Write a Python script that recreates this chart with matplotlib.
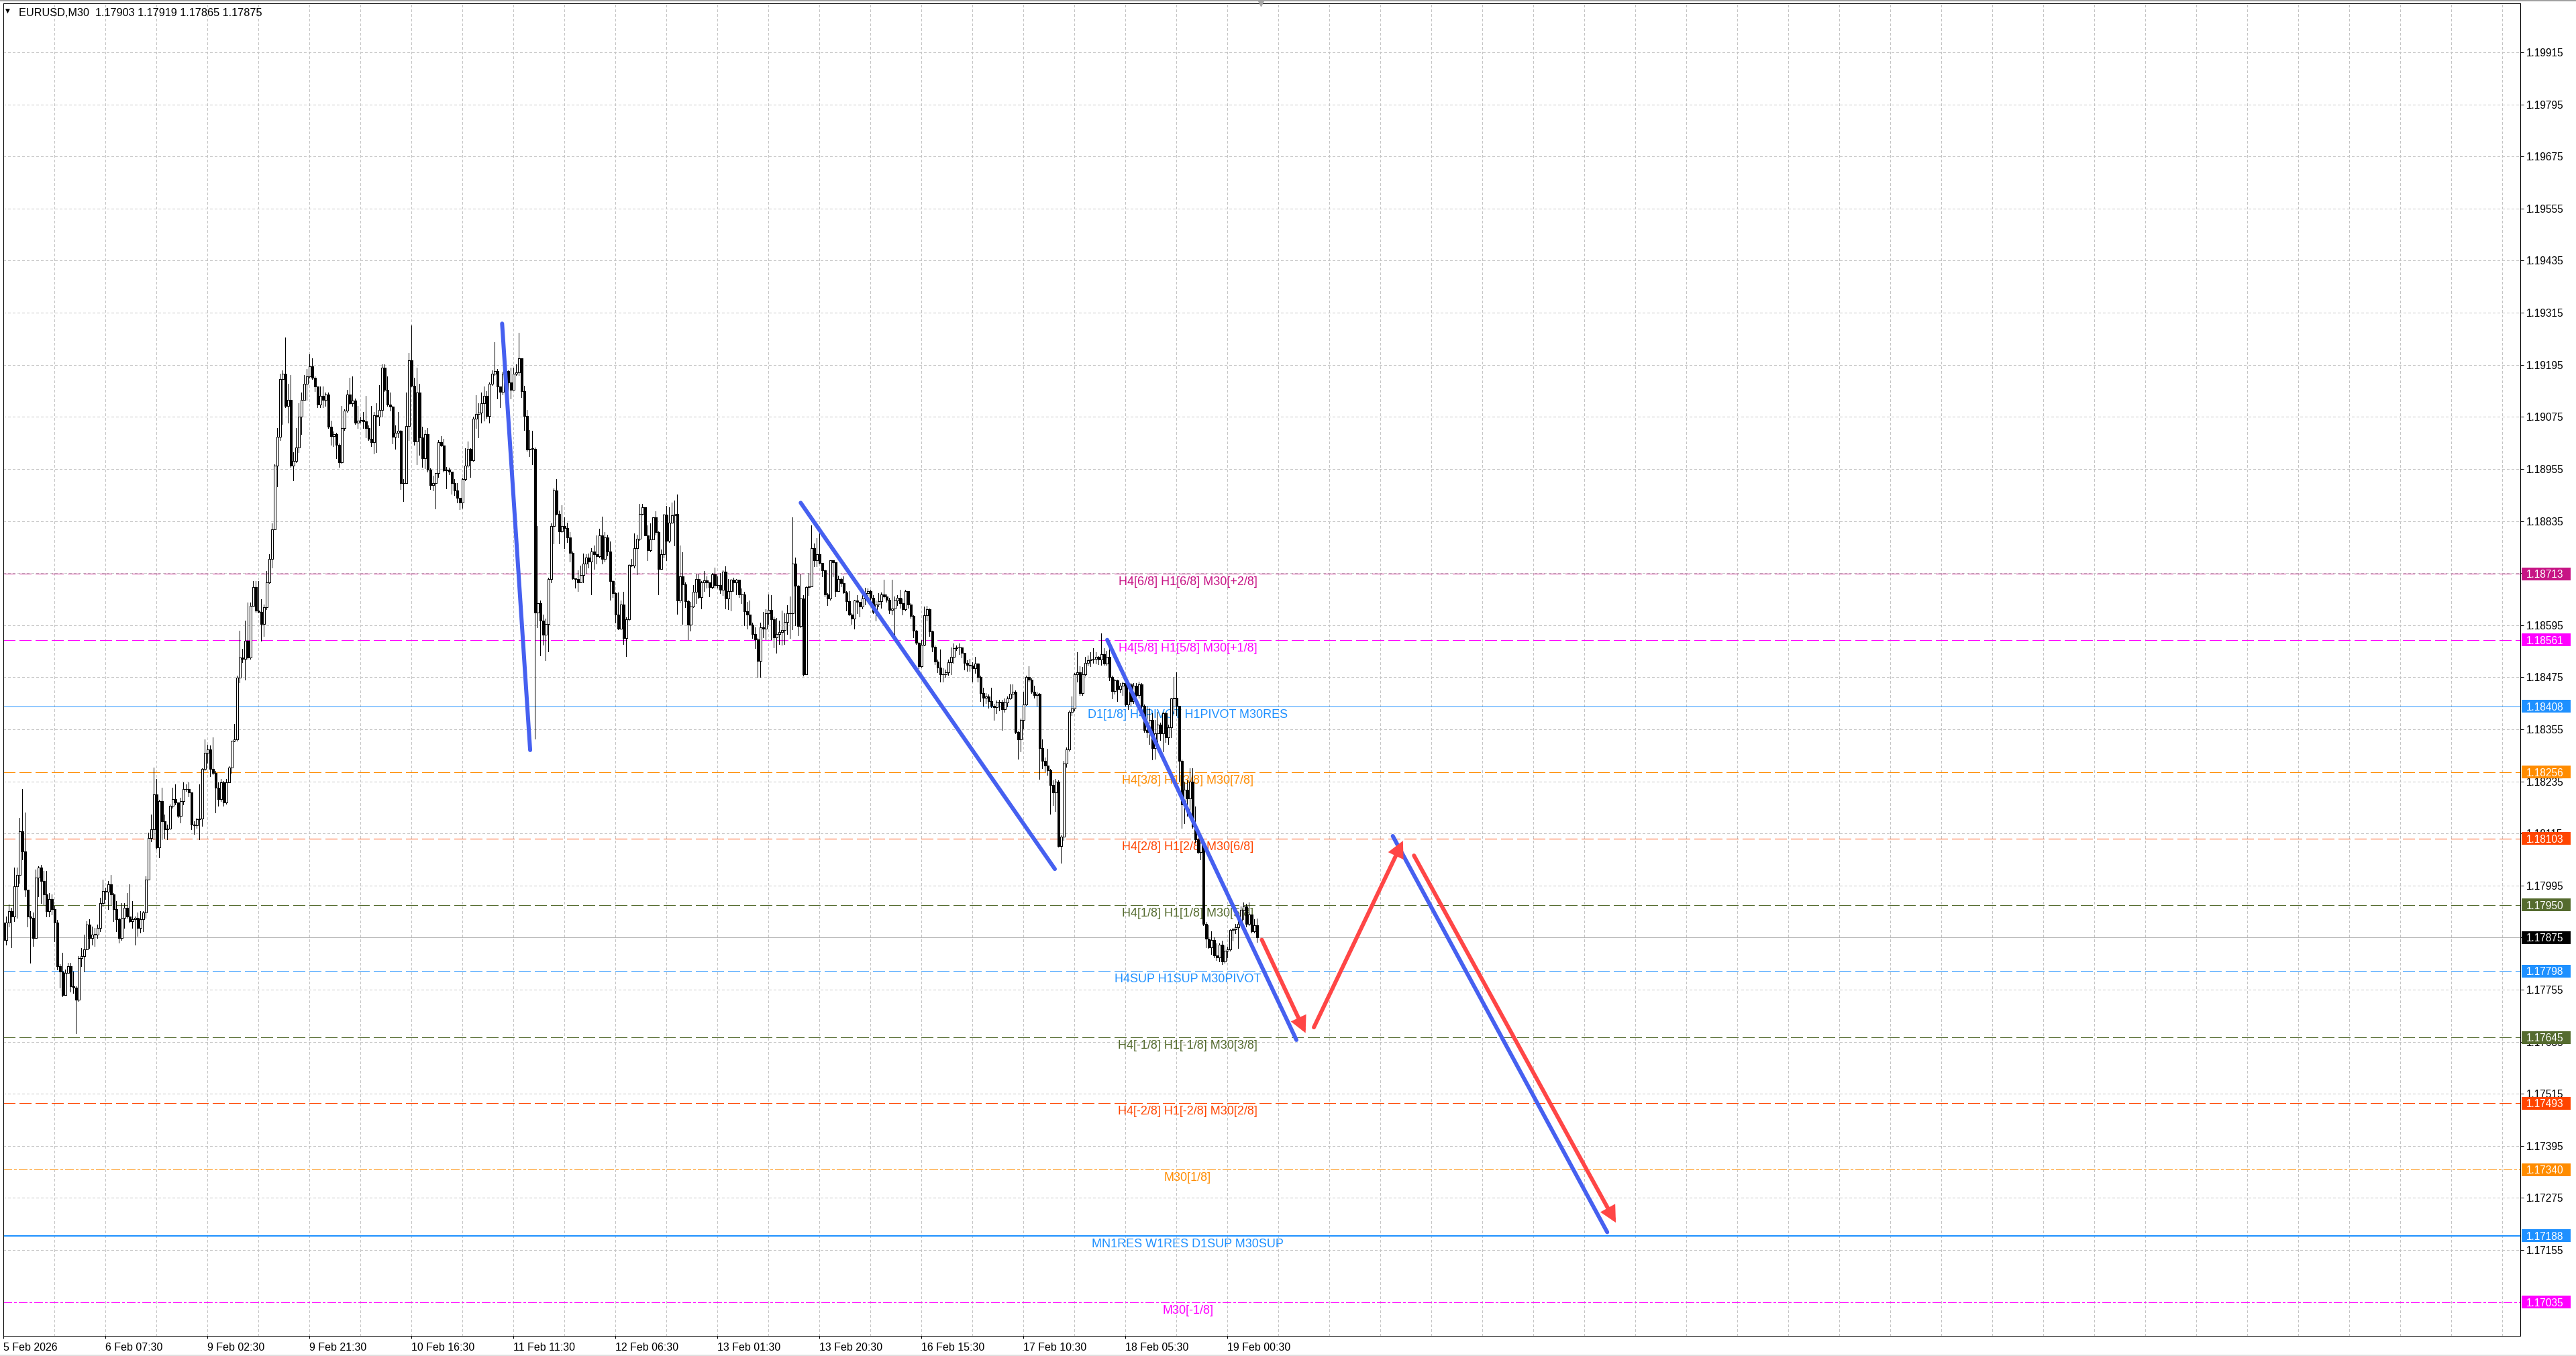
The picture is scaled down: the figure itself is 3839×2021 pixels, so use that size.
import numpy as np
import matplotlib
matplotlib.use('Agg')
import matplotlib.pyplot as plt
from matplotlib.patches import Rectangle
from matplotlib.ticker import FixedLocator

plt.rcParams['font.family'] = ['Liberation Sans', 'DejaVu Sans']
plt.rcParams['lines.scale_dashes'] = False

W, HGT = 3839, 2021
PX = 0.72  # points per pixel at dpi 100

# ---------------- data (prices as pips above 1.17000) ----------------
BASE = 1.17000
first_open_pips = 90.9
close_pips = [
    87.0, 90.9, 93.6, 92.4, 99.3, 102.0, 112.0, 107.4, 98.6, 92.4,
    92.0, 87.4, 101.3, 103.6, 100.5, 97.4, 93.6, 96.3, 94.0, 90.9,
    80.9, 79.7, 74.3, 79.4, 80.9, 76.3, 75.9, 73.2, 82.8, 83.2,
    84.7, 90.5, 87.4, 88.2, 88.2, 89.7, 95.5, 98.2, 98.0, 99.7,
    97.4, 94.0, 91.7, 87.4, 92.0, 94.4, 92.4, 91.3, 91.8, 92.0,
    89.7, 91.7, 93.2, 100.9, 110.5, 112.4, 120.5, 108.2, 119.0, 114.3,
    112.4, 112.6, 117.8, 119.4, 118.7, 115.5, 119.0, 121.7, 121.7, 120.9,
    113.6, 113.3, 114.7, 114.9, 126.3, 130.1, 130.9, 126.3, 125.5, 122.0,
    119.4, 123.2, 118.6, 123.2, 126.7, 132.8, 133.2, 147.4, 152.1, 151.8,
    155.9, 152.1, 164.0, 168.2, 162.8, 162.6, 159.7, 163.6, 169.4, 174.7,
    181.6, 196.3, 202.9, 216.2, 217.5, 210.0, 211.4, 196.3, 197.3, 200.4,
    207.6, 211.4, 215.1, 216.8, 219.2, 216.5, 214.5, 210.3, 212.3, 211.4,
    212.7, 205.2, 203.1, 203.5, 201.1, 197.0, 204.9, 209.0, 212.7, 210.7,
    211.2, 206.2, 206.6, 206.7, 206.5, 204.9, 202.5, 201.6, 207.9, 207.5,
    209.1, 218.9, 213.8, 210.3, 209.8, 202.9, 203.8, 204.3, 192.2, 192.3,
    205.4, 220.6, 214.6, 201.8, 213.1, 202.8, 197.9, 203.6, 195.3, 191.7,
    192.2, 194.5, 201.6, 200.9, 195.1, 195.3, 194.9, 192.2, 190.6, 188.8,
    187.7, 193.2, 196.3, 200.2, 197.5, 207.1, 208.1, 208.5, 210.7, 212.4,
    207.7, 215.1, 217.5, 218.0, 214.5, 213.2, 217.5, 218.0, 215.5, 213.8,
    217.5, 217.7, 221.0, 213.4, 207.7, 199.9, 200.2, 200.2, 162.4, 164.5,
    160.5, 157.3, 159.8, 170.2, 182.4, 190.6, 185.2, 181.1, 182.3, 181.9,
    179.7, 176.2, 170.3, 170.1, 169.4, 171.1, 173.7, 175.0, 174.1, 176.4,
    175.9, 175.4, 180.1, 174.8, 179.7, 176.5, 169.7, 166.9, 162.0, 158.7,
    164.2, 156.5, 160.9, 173.3, 173.2, 177.3, 179.4, 185.2, 186.6, 180.2,
    176.8, 179.3, 184.3, 180.9, 172.5, 175.8, 185.0, 178.9, 183.1, 184.8,
    185.1, 165.2, 170.8, 168.9, 165.0, 159.6, 163.8, 167.2, 170.1, 166.0,
    169.4, 169.8, 169.4, 168.3, 171.2, 168.7, 168.8, 167.7, 171.8, 165.6,
    167.4, 169.9, 169.4, 169.9, 166.5, 166.6, 162.7, 161.9, 159.6, 157.5,
    156.2, 151.3, 159.0, 158.7, 162.3, 163.0, 160.9, 156.6, 157.5, 157.9,
    158.4, 160.3, 162.2, 162.3, 173.7, 168.6, 159.3, 165.7, 148.2, 168.3,
    168.4, 177.2, 174.5, 175.8, 173.8, 172.1, 166.6, 165.6, 174.4, 174.0,
    167.4, 170.2, 169.2, 167.1, 165.0, 162.0, 161.0, 165.1, 164.8, 163.8,
    165.6, 166.9, 167.4, 165.8, 162.5, 164.3, 165.0, 166.6, 166.1, 165.3,
    163.0, 163.3, 165.2, 165.8, 164.6, 163.1, 167.4, 164.3, 161.6, 158.2,
    155.4, 150.0, 155.0, 161.8, 163.1, 158.0, 154.5, 151.1, 149.7, 148.1,
    148.1, 148.6, 151.0, 152.2, 154.2, 154.4, 154.3, 153.1, 150.8, 150.4,
    150.2, 149.5, 150.6, 147.5, 143.9, 142.8, 143.1, 142.0, 140.9, 140.6,
    141.7, 141.9, 140.1, 141.6, 142.6, 143.7, 144.2, 134.8, 133.1, 137.6,
    141.2, 147.5, 147.0, 144.2, 143.4, 143.7, 131.2, 128.2, 127.1, 126.0,
    122.7, 121.0, 123.5, 108.6, 110.8, 127.6, 130.9, 139.5, 140.3, 148.1,
    148.6, 143.9, 148.1, 150.8, 151.4, 151.7, 151.7, 152.2, 151.5, 152.8,
    150.6, 152.2, 147.5, 144.3, 146.7, 144.7, 145.6, 146.1, 141.2, 145.9,
    142.0, 145.6, 143.4, 145.9, 140.9, 135.4, 134.8, 137.6, 131.2, 134.5,
    136.5, 134.5, 139.2, 133.7, 135.9, 142.6, 142.8, 140.9, 128.2, 118.2,
    121.6, 119.6, 123.5, 113.0, 110.2, 107.2, 109.4, 90.6, 87.3, 85.3,
    87.0, 83.4, 82.9, 85.9, 82.0, 84.5, 84.8, 89.2, 89.4, 89.8,
    90.6, 93.9, 94.7, 90.6, 92.8, 88.9, 90.3, 87.5,
]
high_pips = [
    91.7, 92.4, 95.1, 94.4, 103.6, 103.6, 115.1, 121.7, 116.3, 98.6,
    93.6, 93.2, 103.2, 104.0, 104.3, 102.8, 102.8, 97.8, 97.4, 94.8,
    91.5, 81.3, 84.0, 80.1, 81.7, 81.7, 79.7, 76.3, 83.2, 85.1,
    88.2, 91.3, 91.7, 90.1, 89.7, 90.5, 96.7, 100.9, 99.0, 100.5,
    102.0, 97.8, 95.9, 92.0, 95.5, 95.5, 97.8, 99.7, 95.9, 92.4,
    93.2, 93.6, 93.6, 101.7, 111.7, 115.9, 126.7, 124.0, 119.2, 122.0,
    115.9, 113.6, 118.2, 122.0, 122.8, 118.7, 119.7, 123.2, 122.8, 123.2,
    120.9, 114.3, 115.0, 122.8, 126.5, 133.2, 132.0, 131.7, 133.6, 125.9,
    123.2, 124.0, 123.6, 124.0, 127.0, 132.9, 136.7, 147.8, 158.2, 154.0,
    160.5, 164.7, 164.7, 169.7, 169.7, 169.7, 165.5, 164.3, 172.0, 175.9,
    182.9, 196.6, 204.9, 217.5, 218.2, 225.8, 215.1, 217.2, 199.4, 204.9,
    210.7, 213.1, 217.2, 218.6, 222.0, 221.0, 216.8, 214.1, 214.5, 214.5,
    213.1, 213.1, 206.6, 204.2, 203.8, 201.4, 210.0, 209.3, 213.8, 216.5,
    216.8, 211.7, 210.0, 207.6, 208.6, 212.4, 205.5, 210.0, 208.6, 210.7,
    214.8, 219.6, 219.6, 216.8, 213.1, 210.0, 205.5, 208.6, 204.5, 193.2,
    213.1, 222.3, 228.5, 216.5, 218.9, 215.1, 205.2, 204.5, 204.9, 195.6,
    193.9, 194.6, 202.1, 203.1, 202.5, 195.9, 195.8, 194.9, 193.2, 192.2,
    188.8, 193.4, 200.3, 201.9, 200.3, 207.6, 212.5, 210.7, 213.1, 214.5,
    213.4, 215.5, 218.2, 224.7, 218.6, 214.5, 217.9, 219.6, 218.2, 218.9,
    218.9, 219.6, 226.8, 221.0, 214.6, 209.1, 204.5, 204.3, 200.4, 182.3,
    165.1, 162.0, 161.0, 170.4, 182.9, 191.0, 193.1, 185.9, 187.2, 184.4,
    183.1, 180.9, 176.4, 170.2, 172.2, 173.2, 176.0, 175.8, 176.0, 177.3,
    177.8, 180.2, 181.8, 184.5, 180.9, 180.3, 178.8, 169.8, 167.1, 167.1,
    165.1, 167.2, 161.3, 173.5, 174.8, 180.6, 180.3, 187.4, 187.5, 186.7,
    182.5, 182.9, 184.4, 185.8, 181.1, 177.0, 185.2, 187.0, 186.7, 187.7,
    188.2, 189.6, 177.8, 176.3, 169.3, 165.4, 164.8, 168.7, 171.2, 171.2,
    169.7, 172.0, 170.7, 169.2, 171.5, 172.7, 170.7, 171.5, 172.1, 173.0,
    170.2, 170.2, 170.4, 170.2, 169.9, 167.9, 167.2, 164.8, 165.1, 160.0,
    159.0, 156.5, 160.0, 162.6, 163.1, 166.6, 166.4, 161.5, 161.1, 160.5,
    162.8, 162.2, 164.1, 166.1, 184.3, 175.0, 168.7, 171.2, 166.4, 168.4,
    171.5, 182.5, 178.3, 179.6, 180.6, 173.9, 172.3, 166.9, 174.5, 174.5,
    173.0, 170.9, 170.4, 170.7, 167.4, 167.4, 162.3, 165.3, 166.4, 164.8,
    167.6, 168.1, 167.9, 167.6, 166.4, 165.1, 166.9, 167.1, 169.9, 166.6,
    165.8, 169.9, 166.1, 166.4, 167.6, 165.6, 167.7, 167.4, 164.6, 161.7,
    158.4, 155.6, 156.0, 163.8, 164.0, 163.3, 158.2, 154.8, 151.5, 153.9,
    149.5, 149.2, 151.5, 154.4, 155.3, 154.8, 155.3, 154.5, 153.1, 151.4,
    151.7, 150.9, 152.2, 150.8, 147.8, 145.0, 143.8, 143.5, 145.0, 141.4,
    142.2, 142.3, 142.3, 142.6, 143.0, 145.9, 145.9, 144.4, 135.0, 138.0,
    144.2, 147.8, 150.0, 147.2, 145.6, 144.2, 143.9, 133.2, 129.0, 131.0,
    126.4, 123.8, 124.0, 123.8, 111.0, 128.2, 131.3, 139.8, 143.1, 148.5,
    153.3, 150.0, 149.9, 152.2, 152.5, 153.3, 154.2, 153.3, 152.4, 157.6,
    154.2, 153.6, 153.9, 147.8, 147.1, 146.9, 146.2, 146.4, 146.4, 146.4,
    146.2, 146.2, 146.1, 146.5, 146.2, 141.2, 140.9, 140.3, 139.2, 137.6,
    139.5, 137.0, 139.5, 139.5, 136.5, 142.8, 147.5, 148.6, 139.2, 128.5,
    123.2, 123.8, 126.5, 126.5, 117.7, 110.5, 109.8, 107.2, 91.1, 90.3,
    88.9, 87.6, 86.2, 86.2, 86.8, 85.7, 85.4, 89.4, 89.7, 90.6,
    91.9, 94.7, 95.6, 95.3, 95.6, 92.0, 91.7, 91.9,
]
low_pips = [
    85.5, 85.9, 90.1, 85.2, 91.3, 92.0, 100.1, 105.5, 97.0, 90.1,
    81.7, 85.5, 87.4, 97.0, 95.5, 95.1, 92.4, 92.4, 92.8, 86.7,
    80.1, 75.9, 74.0, 75.9, 79.4, 75.1, 74.7, 65.5, 72.8, 80.9,
    79.7, 84.7, 85.1, 85.9, 85.5, 87.4, 89.0, 94.7, 96.3, 94.0,
    95.1, 91.3, 89.0, 86.3, 87.0, 89.7, 92.0, 90.9, 89.7, 85.9,
    87.8, 88.6, 89.0, 92.0, 100.9, 109.7, 110.1, 108.0, 105.9, 110.1,
    110.5, 110.1, 112.4, 117.4, 118.2, 115.3, 114.0, 118.2, 121.3, 120.1,
    112.4, 111.3, 112.8, 110.1, 113.2, 126.0, 127.8, 124.7, 125.1, 116.3,
    117.8, 119.0, 117.8, 118.4, 123.2, 125.5, 132.7, 132.8, 146.3, 150.9,
    147.0, 151.7, 151.7, 164.0, 162.6, 162.4, 155.9, 157.0, 163.2, 169.2,
    172.7, 181.6, 191.5, 202.1, 205.9, 209.7, 206.2, 196.0, 192.9, 197.0,
    199.4, 203.5, 211.4, 211.4, 216.5, 216.2, 213.4, 209.7, 209.7, 209.7,
    210.0, 204.9, 201.1, 200.7, 198.0, 196.0, 196.9, 204.5, 208.6, 210.3,
    210.0, 205.9, 204.9, 206.2, 204.9, 202.8, 202.1, 200.7, 199.0, 199.4,
    205.5, 207.6, 213.4, 210.0, 209.0, 201.4, 200.1, 202.8, 190.8, 188.1,
    192.2, 202.1, 214.5, 201.1, 196.6, 198.7, 196.0, 195.6, 194.9, 190.8,
    190.5, 186.4, 193.6, 200.7, 194.9, 191.0, 194.2, 189.8, 189.5, 187.7,
    186.2, 186.5, 192.9, 196.0, 193.6, 197.3, 204.9, 202.8, 206.2, 206.6,
    207.3, 206.2, 214.8, 217.2, 211.7, 209.7, 212.7, 217.2, 213.1, 211.7,
    213.8, 217.2, 217.2, 212.1, 204.5, 199.7, 198.4, 196.6, 133.3, 159.0,
    152.5, 154.9, 151.4, 153.5, 169.4, 178.3, 184.9, 178.3, 180.9, 177.3,
    178.6, 174.2, 170.2, 168.1, 167.4, 170.2, 169.4, 171.5, 172.7, 166.5,
    172.5, 173.7, 175.0, 173.7, 174.2, 175.5, 165.4, 165.9, 160.0, 158.5,
    158.5, 155.2, 152.4, 160.5, 173.1, 172.7, 171.2, 179.1, 184.9, 180.1,
    174.4, 176.5, 179.3, 180.3, 166.6, 172.5, 175.0, 174.5, 178.6, 182.9,
    177.8, 162.1, 164.7, 159.8, 163.6, 156.2, 158.2, 163.6, 164.6, 165.6,
    163.3, 167.4, 168.1, 166.1, 167.9, 168.1, 168.1, 166.9, 166.4, 163.3,
    163.1, 162.8, 167.4, 166.6, 166.0, 164.6, 159.5, 158.7, 159.5, 156.5,
    154.2, 147.6, 147.6, 156.7, 156.2, 159.8, 156.2, 154.4, 153.1, 155.2,
    154.9, 155.2, 157.5, 156.5, 158.5, 159.5, 157.2, 159.0, 147.8, 148.1,
    166.4, 168.4, 173.1, 173.0, 173.7, 170.7, 166.1, 164.1, 165.4, 170.7,
    166.1, 167.9, 168.4, 166.9, 162.8, 161.8, 159.7, 158.7, 162.3, 161.5,
    163.3, 164.3, 165.8, 165.3, 162.3, 160.5, 163.8, 163.5, 165.8, 164.8,
    162.3, 162.0, 156.4, 164.1, 163.5, 162.0, 162.8, 163.5, 161.2, 156.7,
    155.2, 149.5, 149.8, 154.8, 160.5, 157.0, 153.5, 150.5, 148.6, 146.4,
    146.4, 147.5, 148.0, 148.1, 150.8, 153.8, 152.8, 152.0, 149.2, 148.9,
    148.9, 146.4, 148.5, 146.4, 142.0, 140.9, 141.5, 140.5, 140.6, 137.6,
    139.2, 139.8, 135.4, 139.5, 140.8, 142.4, 142.8, 134.5, 128.7, 130.4,
    135.6, 141.0, 146.4, 143.9, 142.8, 140.9, 124.0, 126.5, 125.8, 124.9,
    116.0, 118.0, 116.6, 108.4, 104.7, 110.0, 126.8, 130.5, 138.7, 139.8,
    146.4, 143.4, 143.4, 147.8, 150.2, 150.0, 150.8, 150.6, 150.5, 150.3,
    150.3, 150.3, 146.7, 142.6, 143.7, 142.0, 144.0, 143.4, 140.9, 140.1,
    140.9, 141.5, 143.0, 142.8, 140.5, 134.8, 133.7, 132.1, 128.5, 128.7,
    130.9, 133.0, 130.4, 132.5, 132.1, 133.7, 139.2, 138.7, 123.5, 112.7,
    113.8, 115.5, 116.0, 112.8, 109.4, 106.9, 105.5, 90.3, 85.3, 85.1,
    83.7, 82.9, 82.3, 82.0, 81.4, 81.7, 82.9, 84.5, 86.8, 88.5,
    85.1, 90.0, 91.7, 90.0, 90.3, 88.6, 88.6, 86.5,
]

tick_bars = [0, 38, 76, 114, 152, 190, 228, 266, 304, 342, 380, 418, 456]
tick_labels = ['5 Feb 2026', '6 Feb 07:30', '9 Feb 02:30', '9 Feb 21:30',
               '10 Feb 16:30', '11 Feb 11:30', '12 Feb 06:30', '13 Feb 01:30',
               '13 Feb 20:30', '16 Feb 15:30', '17 Feb 10:30', '18 Feb 05:30',
               '19 Feb 00:30']
price_ticks = [1.17155, 1.17275, 1.17395, 1.17515, 1.17635, 1.17755, 1.17875,
               1.17995, 1.18115, 1.18235, 1.18355, 1.18475, 1.18595, 1.18715,
               1.18835, 1.18955, 1.19075, 1.19195, 1.19315, 1.19435, 1.19555,
               1.19675, 1.19795, 1.19915]

level_prices = [1.18713, 1.18561, 1.18408, 1.18256, 1.18103, 1.17950,
                1.17798, 1.17645, 1.17493, 1.17340, 1.17188, 1.17035]
level_colors = ['#C71585', '#FF00FF', '#1E90FF', '#FF8C00', '#FF4500', '#556B2F',
                '#1E90FF', '#556B2F', '#FF4500', '#FF8C00', '#1E90FF', '#FF00FF']
level_styles = ['dash', 'dash', 'solid', 'dash', 'dash', 'dash',
                'dash', 'dash', 'dash', 'dashdot', 'solid', 'dashdot']
level_widths = [1, 1, 1, 1, 1, 1, 1, 1, 1, 1, 2, 1]
level_texts = ['H4[6/8] H1[6/8] M30[+2/8]', 'H4[5/8] H1[5/8] M30[+1/8]',
               'D1[1/8] H4PIVOT H1PIVOT M30RES', 'H4[3/8] H1[3/8] M30[7/8]',
               'H4[2/8] H1[2/8] M30[6/8]', 'H4[1/8] H1[1/8] M30[5/8]',
               'H4SUP H1SUP M30PIVOT', 'H4[-1/8] H1[-1/8] M30[3/8]',
               'H4[-2/8] H1[-2/8] M30[2/8]', 'M30[1/8]',
               'MN1RES W1RES D1SUP M30SUP', 'M30[-1/8]']
level_label_bar = 441.2

# blue trend lines (bar index, price)
trend_bar0 = [185.75, 297.0, 411.2, 517.6]
trend_p0 = [1.19290, 1.18877, 1.18561, 1.18109]
trend_bar1 = [196.2, 391.7, 481.7, 597.5]
trend_p1 = [1.18307, 1.18033, 1.17639, 1.17196]
# red arrows
arrow_bar0 = [468.8, 488.2, 525.5]
arrow_p0 = [1.17870, 1.17668, 1.18064]
arrow_bar1 = [485.1, 521.4, 600.7]
arrow_p1 = [1.17655, 1.18098, 1.17218]

header_text = 'EURUSD,M30  1.17903 1.17919 1.17865 1.17875'
current_price = 1.17875

# ---------------- figure ----------------
fig = plt.figure(figsize=(W / 100, HGT / 100), dpi=100)
fig.patch.set_facecolor('white')
AX_L, AX_R, AX_T, AX_B = 4.5, 3756.0, 5.0, 1991.0
ax = fig.add_axes([AX_L / W, 1 - AX_B / HGT, (AX_R - AX_L) / W, (AX_B - AX_T) / HGT])
ax.set_facecolor('white')
ax.set_xlim(-0.2, 937.7)
ax.set_ylim(1.16957, 1.20028)

close = BASE + np.array(close_pips) / 10000.0
opens = BASE + np.array([first_open_pips] + close_pips[:-1]) / 10000.0
high = BASE + np.array(high_pips) / 10000.0
low = BASE + np.array(low_pips) / 10000.0
high = np.maximum(high, np.maximum(opens, close))
low = np.minimum(low, np.minimum(opens, close))
n = len(close)
x = np.arange(n)

# grid
GRID = '#C4C4C4'
ax.set_axisbelow(True)
ax.yaxis.set_major_locator(FixedLocator(price_ticks))
ax.xaxis.set_major_locator(FixedLocator(tick_bars))
ax.xaxis.set_minor_locator(FixedLocator(np.arange(0, 938, 19)))
ax.grid(True, which='major', axis='y', color=GRID, lw=PX, linestyle=(0, (3 * PX, 3 * PX)),
        antialiased=False)
ax.grid(True, which='both', axis='x', color=GRID, lw=PX, linestyle=(0, (3 * PX, 3 * PX)),
        antialiased=False)

# levels
for p, col, sty, lw, txt in zip(level_prices, level_colors, level_styles, level_widths, level_texts):
    if sty == 'dash':
        ls = (0, (18 * PX, 6 * PX))
    elif sty == 'dashdot':
        ls = (0, (13 * PX, 3 * PX, 3 * PX, 3 * PX))
    else:
        ls = '-'
    ax.axhline(p, color=col, lw=lw * PX, linestyle=ls, zorder=1, antialiased=False)
    ax.annotate(txt, xy=(level_label_bar, p), xytext=(0, -4), textcoords='offset pixels',
                ha='center', va='top', color=col, fontsize=13, zorder=2)

ax.axhline(current_price, color='#B4B4B4', lw=PX, zorder=1, antialiased=False)

# candles
ax.vlines(x, low, high, color='black', lw=PX, zorder=3, antialiased=False)
up = close >= opens
body_bot = np.minimum(opens, close)
body_h = np.maximum(np.abs(close - opens), 0.000005)
ax.bar(x[up], body_h[up], bottom=body_bot[up], width=0.72, facecolor='white',
       edgecolor='black', linewidth=PX, zorder=4, antialiased=False)
ax.bar(x[~up], body_h[~up], bottom=body_bot[~up], width=0.72, facecolor='black',
       edgecolor='black', linewidth=PX, zorder=4, antialiased=False)

# trend lines
BLUE = '#4660F0'
RED = '#FF4646'
for b0, p0, b1, p1 in zip(trend_bar0, trend_p0, trend_bar1, trend_p1):
    ax.plot([b0, b1], [p0, p1], color=BLUE, lw=6 * PX, solid_capstyle='round', zorder=5)
for b0, p0, b1, p1 in zip(arrow_bar0, arrow_p0, arrow_bar1, arrow_p1):
    ax.annotate('', xy=(b1, p1), xytext=(b0, p0),
                arrowprops=dict(arrowstyle='-|>,head_length=0.55,head_width=0.28',
                                mutation_scale=20, lw=6 * PX, color=RED,
                                shrinkA=0, shrinkB=0, capstyle='round', joinstyle='miter'),
                zorder=6)

# chart shift marker
ax.plot([n + 0.5], [1.20028], marker='v', color='#A8A8A8', ms=6, clip_on=False, zorder=7)

# axes styling
for s in ax.spines.values():
    s.set_color('black')
    s.set_linewidth(PX)
    s.set_antialiased(False)
ax.yaxis.tick_right()
ax.set_yticklabels([f'{v:.5f}' for v in price_ticks])
ax.tick_params(axis='y', which='major', length=5 * PX, width=PX, pad=4 * PX,
               labelsize=11.2, colors='black', right=True, left=False)
ax.set_xticklabels(tick_labels, ha='left')
ax.tick_params(axis='x', which='major', length=4 * PX, width=PX, pad=6 * PX,
               labelsize=11.5, colors='black')
ax.tick_params(axis='x', which='minor', length=0)

# price tags on the right
fig.canvas.draw()
tag_prices = level_prices + [current_price]
tag_colors = level_colors + ['#000000']
for p, col in zip(tag_prices, tag_colors):
    yd = ax.transData.transform((0, p))[1]
    fig.add_artist(Rectangle((3758 / W, (yd - 9.5) / HGT), 73 / W, 19 / HGT,
                             transform=fig.transFigure, facecolor=col, edgecolor='none', zorder=5))
    fig.text(3765 / W, yd / HGT, f'{p:.5f}', color='white', fontsize=11.2,
             ha='left', va='center_baseline', zorder=6)

# header
fig.text(8 / W, 1 - 16 / HGT, '\u25BC', fontsize=6.5, color='black',
         family=['DejaVu Sans'], ha='left', va='center')
fig.text(28 / W, 1 - 17.5 / HGT, header_text, fontsize=11.7, color='black',
         ha='left', va='center_baseline')

# window edges
fig.add_artist(Rectangle((0, 1 - 2 / HGT), 1, 2 / HGT, transform=fig.transFigure,
                         facecolor='#A0A0A0', edgecolor='none', zorder=8))
fig.add_artist(Rectangle((0, 0), 1, 2 / HGT, transform=fig.transFigure,
                         facecolor='#E0E0E0', edgecolor='none', zorder=8))

fig.savefig('out.png', dpi=100, facecolor='white')
